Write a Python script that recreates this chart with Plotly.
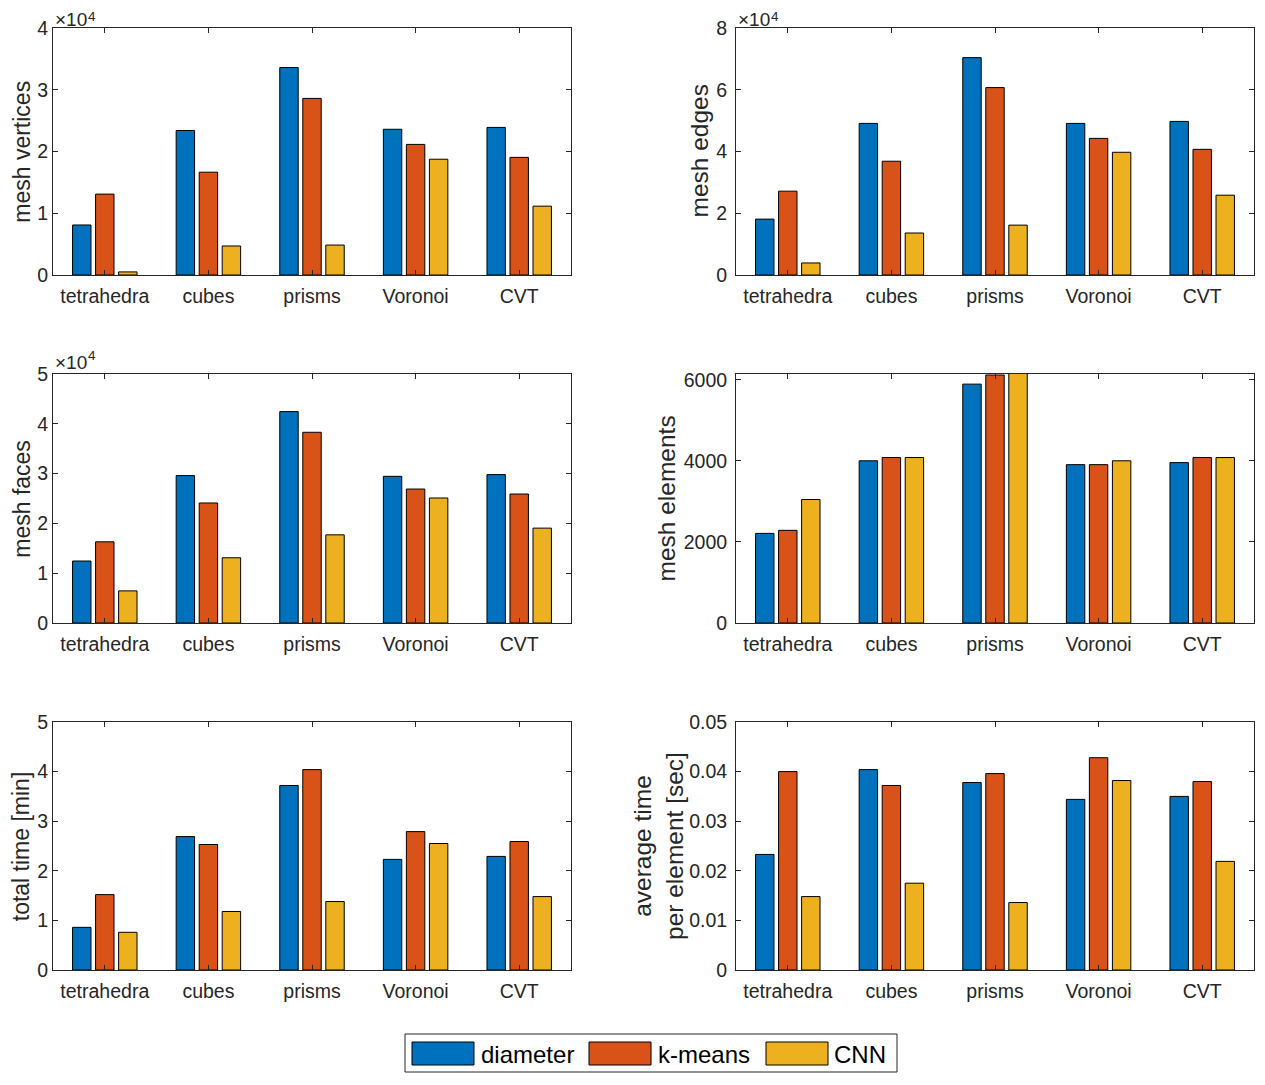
import plotly.graph_objects as go

# the page adds an 8px body margin, so the figure is sized to the rest of the window
OFF = 8
W, H = 1265 - OFF, 1085 - OFF

categories = ["tetrahedra", "cubes", "prisms", "Voronoi", "CVT"]
series_names = ["diameter", "k-means", "CNN"]
colors = ["#0072BD", "#D95319", "#EDB120"]

vertices_diameter = [8100, 23400, 33600, 23600, 23900]
vertices_kmeans = [13100, 16650, 28600, 21150, 19050]
vertices_cnn = [500, 4700, 4850, 18750, 11150]

edges_diameter = [18100, 49100, 70400, 49100, 49750]
edges_kmeans = [27150, 36850, 60700, 44250, 40700]
edges_cnn = [3900, 13600, 16150, 39750, 25850]

faces_diameter = [12450, 29600, 42450, 29450, 29800]
faces_kmeans = [16300, 24100, 38300, 26900, 25900]
faces_cnn = [6450, 13100, 17700, 25100, 19050]

elements_diameter = [2210, 4000, 5890, 3905, 3955]
elements_kmeans = [2285, 4080, 6115, 3905, 4080]
elements_cnn = [3045, 4080, 6300, 4000, 4080]

time_diameter = [0.86, 2.69, 3.72, 2.23, 2.29]
time_kmeans = [1.52, 2.53, 4.04, 2.79, 2.59]
time_cnn = [0.76, 1.18, 1.38, 2.55, 1.48]

avg_diameter = [0.0233, 0.0404, 0.0378, 0.0344, 0.0350]
avg_kmeans = [0.0400, 0.0372, 0.0396, 0.0428, 0.0380]
avg_cnn = [0.0148, 0.0175, 0.0136, 0.0382, 0.0219]

panels = [
    dict(data=[vertices_diameter, vertices_kmeans, vertices_cnn], yr=[0, 40000],
         tv=[0, 10000, 20000, 30000, 40000], tt=["0", "1", "2", "3", "4"],
         title="mesh vertices", exp=True),
    dict(data=[edges_diameter, edges_kmeans, edges_cnn], yr=[0, 80000],
         tv=[0, 20000, 40000, 60000, 80000], tt=["0", "2", "4", "6", "8"],
         title="mesh edges", exp=True),
    dict(data=[faces_diameter, faces_kmeans, faces_cnn], yr=[0, 50000],
         tv=[0, 10000, 20000, 30000, 40000, 50000], tt=["0", "1", "2", "3", "4", "5"],
         title="mesh faces", exp=True),
    dict(data=[elements_diameter, elements_kmeans, elements_cnn], yr=[0, 6140],
         tv=[0, 2000, 4000, 6000], tt=["0", "2000", "4000", "6000"],
         title="mesh elements", exp=False),
    dict(data=[time_diameter, time_kmeans, time_cnn], yr=[0, 5],
         tv=[0, 1, 2, 3, 4, 5], tt=["0", "1", "2", "3", "4", "5"],
         title="total time [min]", exp=False),
    dict(data=[avg_diameter, avg_kmeans, avg_cnn], yr=[0, 0.05],
         tv=[0, 0.01, 0.02, 0.03, 0.04, 0.05], tt=["0", "0.01", "0.02", "0.03", "0.04", "0.05"],
         title="average time<br>per element [sec]", exp=False),
]

# pixel geometry of the axes boxes (window pixels)
cols_px = [(53, 571), (736, 1254)]
rows_px = [(28, 275), (374, 623), (722, 970)]
TITLE_FS = [23, 24.5]
# left-column titles kept inside the page edge
left_title_x = OFF + 0.5 * 1.117 * TITLE_FS[0] + 0.4
title_x_px = [left_title_x, 699, left_title_x, 666, left_title_x, 659]
tick_standoff = [0, 4]


def px(x):
    return (x - OFF) / W


def py(y):
    return 1 - (y - OFF) / H


FONT = "Liberation Sans, Arial, Helvetica, sans-serif"
AX = "#262626"
EXP_FS, SUP_FS = 19, 13.5

fig = go.Figure()
annotations = []
layout_axes = {}

for i, p in enumerate(panels):
    r, c = divmod(i, 2)
    n = "" if i == 0 else str(i + 1)
    xa, ya = "x" + n, "y" + n
    for s in range(3):
        fig.add_trace(go.Bar(
            x=categories, y=p["data"][s], name=series_names[s],
            marker=dict(color=colors[s], line=dict(color="black", width=1)),
            xaxis=xa, yaxis=ya, showlegend=False, offsetgroup=str(s),
        ))
    x0, x1 = cols_px[c]
    y0, y1 = rows_px[r]
    common = dict(showline=True, linecolor=AX, linewidth=1, mirror="ticks",
                  ticks="inside", ticklen=5, tickcolor=AX, tickwidth=1,
                  showgrid=False, zeroline=False, automargin=False,
                  tickfont=dict(family=FONT, size=19.5, color=AX))
    layout_axes["xaxis" + n] = dict(domain=[px(x0), px(x1)], anchor=ya,
                                    type="category", range=[-0.5, 4.5],
                                    ticklabelstandoff=4, **common)
    layout_axes["yaxis" + n] = dict(domain=[py(y1), py(y0)], anchor=xa,
                                    range=p["yr"], tickvals=p["tv"], ticktext=p["tt"],
                                    ticklabelstandoff=tick_standoff[c], **common)
    annotations.append(dict(
        text=p["title"], xref="paper", yref="paper", borderpad=0,
        x=px(title_x_px[i]), y=py((y0 + y1) / 2), xanchor="center", yanchor="middle",
        textangle=-90, showarrow=False,
        font=dict(family=FONT, size=TITLE_FS[c], color=AX)))
    if p["exp"]:
        # baseline of the "×10" and of the exponent, kept inside the page
        base = max(y0 - 5.5, OFF + 0.905 * EXP_FS)
        sup_base = max(y0 - 14.5, OFF + 0.905 * SUP_FS)
        annotations.append(dict(
            text="×10", xref="paper", yref="paper", borderpad=0,
            x=px(x0 + 1), y=py(base - 0.905 * EXP_FS), xanchor="left", yanchor="top",
            showarrow=False, font=dict(family=FONT, size=EXP_FS, color=AX)))
        annotations.append(dict(
            text="4", xref="paper", yref="paper", borderpad=0,
            x=px(x0 + 1 + 1.696 * EXP_FS + 0.5), y=py(sup_base - 0.905 * SUP_FS),
            xanchor="left", yanchor="top",
            showarrow=False, font=dict(family=FONT, size=SUP_FS, color=AX)))

# legend drawn as a box with swatches
shapes = [dict(type="rect", xref="paper", yref="paper",
               x0=px(405), x1=px(897), y0=py(1072), y1=py(1034),
               line=dict(color=AX, width=1), fillcolor="white", layer="below")]
sw_x = [412, 589, 766]
txt_x = [479, 656, 832]
for s in range(3):
    shapes.append(dict(type="rect", xref="paper", yref="paper",
                       x0=px(sw_x[s]), x1=px(sw_x[s] + 62), y0=py(1065), y1=py(1042),
                       line=dict(color="black", width=1), fillcolor=colors[s]))
    annotations.append(dict(text=series_names[s], xref="paper", yref="paper",
                            x=px(txt_x[s]), y=py(1054), xanchor="left", yanchor="middle",
                            showarrow=False, font=dict(family=FONT, size=24, color="black")))

fig.update_layout(
    width=W, height=H, margin=dict(l=0, r=0, t=0, b=0, pad=0, autoexpand=False),
    paper_bgcolor="white", plot_bgcolor="white",
    barmode="group", bargap=1 / 3, bargroupgap=0.2,
    annotations=annotations, shapes=shapes, showlegend=False,
    font=dict(family=FONT, color=AX),
    **layout_axes,
)

fig.write_html("out.html")
